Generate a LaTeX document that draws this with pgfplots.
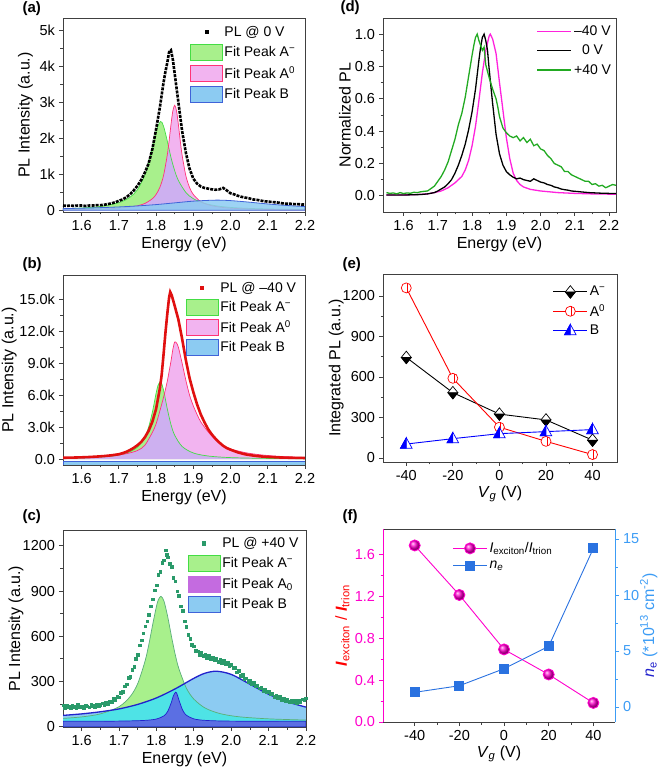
\documentclass[border=0pt]{standalone}
\usepackage{fontspec}
\setmainfont{Liberation Sans}
\usepackage{pgfplots}
\pgfplotsset{compat=1.18}

\definecolor{gfill}{HTML}{A8F08C}
\definecolor{gline}{HTML}{44DD44}
\definecolor{pfill}{HTML}{F2B4F0}
\definecolor{pline}{HTML}{FF3377}
\definecolor{lav}{HTML}{CDB0F0}
\definecolor{bfill}{HTML}{8CCBF2}
\definecolor{bline}{HTML}{3F63D8}
\definecolor{cyanov}{HTML}{4EE3E6}
\definecolor{navy}{HTML}{5B6FE3}
\definecolor{purp}{HTML}{C46BE0}
\definecolor{tealdot}{HTML}{2A9A6A}
\definecolor{tealline}{HTML}{5AAE7A}
\definecolor{dmag}{HTML}{FF22DD}
\definecolor{dgreen}{HTML}{22AA22}
\definecolor{fmag}{HTML}{FF00CC}
\definecolor{fblue}{HTML}{2A72E0}
\definecolor{lblue}{HTML}{3C9CF5}
\definecolor{nblue}{HTML}{2222CC}
\definecolor{axgray}{HTML}{404040}
\definecolor{redPL}{HTML}{E01010}

\pgfdeclareplotmark{halfdiamondB}{%
  \begin{pgfscope}\pgfsetfillcolor{white}
  \pgfpathmoveto{\pgfqpoint{0pt}{1.25\pgfplotmarksize}}
  \pgfpathlineto{\pgfqpoint{\pgfplotmarksize}{0pt}}
  \pgfpathlineto{\pgfqpoint{0pt}{-1.25\pgfplotmarksize}}
  \pgfpathlineto{\pgfqpoint{-\pgfplotmarksize}{0pt}}
  \pgfpathclose\pgfusepathqfillstroke
  \end{pgfscope}
  \pgfpathmoveto{\pgfqpoint{\pgfplotmarksize}{0pt}}
  \pgfpathlineto{\pgfqpoint{0pt}{-1.25\pgfplotmarksize}}
  \pgfpathlineto{\pgfqpoint{-\pgfplotmarksize}{0pt}}
  \pgfpathclose\pgfusepathqfillstroke
}
\pgfdeclareplotmark{circbar}{%
  \begin{pgfscope}\pgfsetfillcolor{white}
  \pgfpathcircle{\pgfpointorigin}{\pgfplotmarksize}\pgfusepathqfillstroke
  \end{pgfscope}
  \pgfpathmoveto{\pgfqpoint{0.25\pgfplotmarksize}{-0.96\pgfplotmarksize}}
  \pgfpathlineto{\pgfqpoint{0.25\pgfplotmarksize}{0.96\pgfplotmarksize}}
  \pgfusepathqstroke
}
\pgfdeclareplotmark{halftriL}{%
  \begin{pgfscope}\pgfsetfillcolor{white}
  \pgfpathmoveto{\pgfqpoint{0pt}{1.15\pgfplotmarksize}}
  \pgfpathlineto{\pgfqpoint{1.05\pgfplotmarksize}{-0.75\pgfplotmarksize}}
  \pgfpathlineto{\pgfqpoint{-1.05\pgfplotmarksize}{-0.75\pgfplotmarksize}}
  \pgfpathclose\pgfusepathqfillstroke
  \end{pgfscope}
  \pgfpathmoveto{\pgfqpoint{0pt}{1.15\pgfplotmarksize}}
  \pgfpathlineto{\pgfqpoint{0pt}{-0.75\pgfplotmarksize}}
  \pgfpathlineto{\pgfqpoint{-1.05\pgfplotmarksize}{-0.75\pgfplotmarksize}}
  \pgfpathclose\pgfusepathqfillstroke
}

\pgfplotsset{
  panel/.style={
    scale only axis, anchor=south west,
    axis line style={axgray, line width=0.8pt},
    tick style={axgray, line width=0.8pt},
    tick align=outside, tick pos=left,
    major tick length=4pt, minor tick length=2.5pt,
    minor x tick num=1, minor y tick num=1,
    ticklabel style={font=\fontsize{14.5}{16}\selectfont},
    label style={font=\fontsize{16}{18}\selectfont},
    xticklabel style={yshift=-1pt},
    yticklabel style={xshift=-0.5pt},
    /pgf/number format/assume math mode=true,
    /pgf/number format/1000 sep={},
    legend style={draw=none, fill=none, font=\fontsize{14}{15.5}\selectfont,
      row sep=3pt, inner sep=0pt, outer sep=0pt},
    legend cell align=left,
    xlabel style={at={(axis description cs:0.5,0)}, anchor=center, yshift=-32pt},
  },
  energyx/.style={xmin=1.55, xmax=2.2, xtick={1.6,1.7,1.8,1.9,2.0,2.1,2.2},
    xticklabel style={/pgf/number format/.cd, fixed, fixed zerofill, precision=1},
    xlabel={Energy (eV)}},
  linelegend/.style={legend image code/.code={\draw[mark repeat=2,mark phase=2,##1] plot coordinates {(0pt,0pt) (17pt,0pt) (34pt,0pt)};}},
  arealegend/.style={legend image code/.code={\draw[##1] (0pt,-8pt) rectangle (32pt,8pt);}},
  dotlegend/.style={legend image code/.code={\path (0pt,-8pt) (32pt,8pt); \fill[##1] (14.5pt,-1.6pt) rectangle (17.5pt,1.6pt);}},
}

\begin{document}
\begin{tikzpicture}
\path[use as bounding box] (0pt,0pt) rectangle (661pt,772pt);

% ---------------- (a)
\begin{axis}[panel, energyx, at={(63pt,560pt)}, width=242pt, height=194pt,
  ymin=-0.05, ymax=5.35, ytick={0,1,2,3,4,5}, yticklabels={0,1k,2k,3k,4k,5k},
  ylabel={PL Intensity (a.u.)},
  ylabel style={at={(axis description cs:-0.155,0.5)}, anchor=center},
  legend style={at={(0.525,0.97)}, anchor=north west, row sep=4pt}]
\addlegendimage{dotlegend, black}\addlegendentry{PL @ 0 V}
\addlegendimage{arealegend, fill=gfill, draw=gline}\addlegendentry{Fit Peak A\textsuperscript{−}}
\addlegendimage{arealegend, fill=pfill, draw=pline}\addlegendentry{Fit Peak A\textsuperscript{0}}
\addlegendimage{arealegend, fill=bfill, draw=bline}\addlegendentry{Fit Peak B}
\addplot[forget plot, smooth, fill=gfill, draw=none] coordinates {(1.55,0.041)(1.60,0.062)(1.65,0.104)(1.70,0.208)(1.73,0.362)(1.75,0.571)(1.77,0.978)(1.78,1.31)(1.79,1.74)(1.80,2.20)(1.812,2.47)(1.82,2.34)(1.83,1.93)(1.84,1.47)(1.85,1.10)(1.86,0.825)(1.88,0.494)(1.90,0.321)(1.93,0.189)(1.97,0.109)(2.02,0.064)(2.10,0.034)(2.20,0.019)} \closedcycle;
\addplot[forget plot, smooth, fill=pfill, draw=none] coordinates {(1.55,0.014)(1.60,0.020)(1.65,0.032)(1.70,0.056)(1.73,0.087)(1.75,0.123)(1.77,0.188)(1.79,0.319)(1.80,0.438)(1.81,0.631)(1.82,0.96)(1.83,1.53)(1.835,1.93)(1.84,2.38)(1.845,2.76)(1.85,2.92)(1.855,2.76)(1.86,2.38)(1.865,1.93)(1.87,1.53)(1.88,0.96)(1.89,0.631)(1.90,0.438)(1.92,0.241)(1.95,0.123)(2.00,0.056)(2.10,0.020)(2.20,0.010)} \closedcycle;
\addplot[forget plot, smooth, fill=lav, draw=none] coordinates {(1.55,0.014)(1.60,0.020)(1.65,0.032)(1.70,0.056)(1.73,0.087)(1.75,0.123)(1.77,0.188)(1.79,0.319)(1.80,0.438)(1.81,0.631)(1.82,0.96)(1.83,1.53)(1.835,1.69)(1.84,1.47)(1.85,1.10)(1.86,0.825)(1.88,0.494)(1.90,0.321)(1.92,0.22)(1.95,0.123)(2.00,0.056)(2.10,0.020)(2.20,0.010)} \closedcycle;
\addplot[forget plot, smooth, draw=gline, line width=0.7pt] coordinates {(1.55,0.041)(1.60,0.062)(1.65,0.104)(1.70,0.208)(1.73,0.362)(1.75,0.571)(1.77,0.978)(1.78,1.31)(1.79,1.74)(1.80,2.20)(1.812,2.47)(1.82,2.34)(1.83,1.93)(1.84,1.47)(1.85,1.10)(1.86,0.825)(1.88,0.494)(1.90,0.321)(1.93,0.189)(1.97,0.109)(2.02,0.064)(2.10,0.034)(2.20,0.019)};
\addplot[forget plot, smooth, draw=pline, line width=0.7pt] coordinates {(1.55,0.014)(1.60,0.020)(1.65,0.032)(1.70,0.056)(1.73,0.087)(1.75,0.123)(1.77,0.188)(1.79,0.319)(1.80,0.438)(1.81,0.631)(1.82,0.96)(1.83,1.53)(1.835,1.93)(1.84,2.38)(1.845,2.76)(1.85,2.92)(1.855,2.76)(1.86,2.38)(1.865,1.93)(1.87,1.53)(1.88,0.96)(1.89,0.631)(1.90,0.438)(1.92,0.241)(1.95,0.123)(2.00,0.056)(2.10,0.020)(2.20,0.010)};
\addplot[forget plot, smooth, fill=bfill, fill opacity=0.85, draw=bline, line width=0.8pt] coordinates {(1.55,0.045)(1.60,0.056)(1.65,0.071)(1.70,0.091)(1.75,0.119)(1.80,0.156)(1.85,0.204)(1.90,0.252)(1.96,0.28)(2.00,0.267)(2.05,0.224)(2.10,0.174)(2.15,0.132)(2.20,0.101)} \closedcycle;
\addplot[forget plot, black, line width=2.6pt, dash pattern=on 3pt off 1.1pt] coordinates {(1.55,0.13)(1.56,0.12)(1.57,0.13)(1.58,0.12)(1.59,0.13)(1.60,0.13)(1.61,0.12)(1.62,0.13)(1.63,0.13)(1.64,0.14)(1.65,0.14)(1.66,0.15)(1.67,0.17)(1.68,0.19)(1.69,0.22)(1.70,0.26)(1.71,0.30)(1.72,0.36)(1.73,0.44)(1.74,0.55)(1.75,0.68)(1.76,0.84)(1.77,1.05)(1.78,1.30)(1.79,1.70)(1.80,2.25)(1.81,2.85)(1.82,3.55)(1.825,3.85)(1.83,4.10)(1.835,4.40)(1.84,4.45)(1.845,4.20)(1.85,3.80)(1.86,3.00)(1.87,2.20)(1.88,1.60)(1.89,1.15)(1.90,0.88)(1.91,0.74)(1.92,0.66)(1.93,0.62)(1.94,0.60)(1.95,0.58)(1.96,0.57)(1.97,0.58)(1.98,0.62)(1.99,0.55)(2.00,0.47)(2.01,0.44)(2.02,0.40)(2.03,0.37)(2.04,0.35)(2.05,0.33)(2.06,0.30)(2.07,0.29)(2.08,0.27)(2.09,0.25)(2.10,0.24)(2.11,0.23)(2.12,0.22)(2.13,0.21)(2.14,0.19)(2.15,0.18)(2.16,0.18)(2.17,0.17)(2.18,0.17)(2.19,0.16)(2.20,0.16)};
\end{axis}

% ---------------- (b)
\begin{axis}[panel, energyx, at={(63pt,307pt)}, width=242pt, height=190pt,
  ymin=-0.56, ymax=17.3, ytick={0,3,6,9,12,15}, yticklabels={0.0,3.0k,6.0k,9.0k,12.0k,15.0k},
  ylabel={PL Intensity (a.u.)},
  ylabel style={at={(axis description cs:-0.222,0.5)}, anchor=center},
  legend style={at={(0.508,0.975)}, anchor=north west, row sep=3pt}]
\addlegendimage{dotlegend, redPL}\addlegendentry{PL @ –40 V}
\addlegendimage{arealegend, fill=gfill, draw=gline}\addlegendentry{Fit Peak A\textsuperscript{−}}
\addlegendimage{arealegend, fill=pfill, draw=pline}\addlegendentry{Fit Peak A\textsuperscript{0}}
\addlegendimage{arealegend, fill=bfill, draw=bline}\addlegendentry{Fit Peak B}
\addplot[forget plot, smooth, fill=gfill, draw=none] coordinates {(1.55,0.071)(1.62,0.132)(1.68,0.275)(1.72,0.549)(1.75,1.118)(1.77,2.085)(1.78,3.00)(1.79,4.40)(1.80,6.17)(1.805,6.9)(1.811,7.27)(1.815,7.10)(1.82,6.49)(1.825,5.63)(1.83,4.74)(1.84,3.24)(1.85,2.24)(1.87,1.18)(1.90,0.572)(1.94,0.284)(2.00,0.135)(2.10,0.058)(2.20,0.032)} \closedcycle;
\addplot[forget plot, smooth, fill=pfill, draw=none] coordinates {(1.55,0.10)(1.62,0.18)(1.68,0.30)(1.72,0.50)(1.75,0.80)(1.77,1.30)(1.79,2.50)(1.80,3.30)(1.81,4.50)(1.82,5.80)(1.83,7.30)(1.84,9.20)(1.845,10.3)(1.85,11.0)(1.855,10.9)(1.86,10.5)(1.87,9.0)(1.88,7.4)(1.89,6.0)(1.90,5.0)(1.91,4.2)(1.92,3.5)(1.94,2.55)(1.96,1.80)(1.98,1.30)(2.00,0.95)(2.04,0.60)(2.08,0.40)(2.12,0.28)(2.16,0.20)(2.20,0.15)} \closedcycle;
\addplot[forget plot, smooth, fill=lav, draw=none] coordinates {(1.55,0.071)(1.62,0.132)(1.68,0.275)(1.72,0.50)(1.75,0.80)(1.77,1.30)(1.79,2.50)(1.80,3.30)(1.81,4.50)(1.82,5.80)(1.825,5.63)(1.83,4.74)(1.84,3.24)(1.85,2.24)(1.87,1.18)(1.90,0.572)(1.94,0.284)(2.00,0.135)(2.10,0.058)(2.20,0.032)} \closedcycle;
\addplot[forget plot, smooth, draw=gline, line width=0.7pt] coordinates {(1.55,0.071)(1.62,0.132)(1.68,0.275)(1.72,0.549)(1.75,1.118)(1.77,2.085)(1.78,3.00)(1.79,4.40)(1.80,6.17)(1.805,6.9)(1.811,7.27)(1.815,7.10)(1.82,6.49)(1.825,5.63)(1.83,4.74)(1.84,3.24)(1.85,2.24)(1.87,1.18)(1.90,0.572)(1.94,0.284)(2.00,0.135)(2.10,0.058)(2.20,0.032)};
\addplot[forget plot, smooth, draw=pline, line width=0.7pt] coordinates {(1.55,0.10)(1.62,0.18)(1.68,0.30)(1.72,0.50)(1.75,0.80)(1.77,1.30)(1.79,2.50)(1.80,3.30)(1.81,4.50)(1.82,5.80)(1.83,7.30)(1.84,9.20)(1.845,10.3)(1.85,11.0)(1.855,10.9)(1.86,10.5)(1.87,9.0)(1.88,7.4)(1.89,6.0)(1.90,5.0)(1.91,4.2)(1.92,3.5)(1.94,2.55)(1.96,1.80)(1.98,1.30)(2.00,0.95)(2.04,0.60)(2.08,0.40)(2.12,0.28)(2.16,0.20)(2.20,0.15)};
\addplot[forget plot, fill=bfill, draw=bline, line width=0.6pt] coordinates {(1.55,-0.22)(2.2,-0.22)(2.2,-0.8)(1.55,-0.8)} -- cycle;
\addplot[forget plot, redPL, line width=2.6pt] coordinates {(1.55,0.12)(1.58,0.14)(1.60,0.16)(1.62,0.19)(1.64,0.23)(1.66,0.28)(1.68,0.35)(1.70,0.45)(1.71,0.55)(1.72,0.68)(1.73,0.85)(1.74,1.05)(1.75,1.30)(1.76,1.60)(1.77,2.05)(1.78,2.65)(1.79,3.50)(1.80,4.70)(1.81,6.60)(1.815,7.9)(1.82,9.8)(1.825,11.8)(1.83,13.6)(1.835,15.2)(1.838,15.7)(1.842,15.4)(1.85,14.4)(1.86,13.1)(1.87,11.3)(1.88,9.3)(1.89,7.6)(1.90,6.3)(1.91,5.15)(1.92,4.2)(1.93,3.45)(1.94,2.8)(1.95,2.3)(1.96,1.9)(1.97,1.55)(1.98,1.25)(1.99,1.03)(2.00,0.88)(2.02,0.62)(2.04,0.44)(2.06,0.33)(2.08,0.25)(2.10,0.20)(2.13,0.15)(2.16,0.12)(2.20,0.10)};
\end{axis}

% ---------------- (c)
\begin{axis}[panel, energyx, at={(63pt,45pt)}, width=243pt, height=197pt,
  ymin=-2, ymax=1305, ytick={0,300,600,900,1200},
  ylabel={PL Intensity (a.u.)},
  ylabel style={at={(axis description cs:-0.193,0.5)}, anchor=center},
  legend style={at={(0.514,0.975)}, anchor=north west, row sep=4pt}]
\addlegendimage{dotlegend, tealdot}\addlegendentry{PL @ +40 V}
\addlegendimage{arealegend, fill=gfill, draw=gline}\addlegendentry{Fit Peak A\textsuperscript{−}}
\addlegendimage{arealegend, fill=purp, draw=purp}\addlegendentry{Fit Peak A\textsubscript{0}}
\addlegendimage{arealegend, fill=bfill, draw=bline}\addlegendentry{Fit Peak B}
\addplot[forget plot, smooth, fill=bfill, draw=none] coordinates {(1.55,75)(1.60,85)(1.65,99)(1.70,118)(1.75,148)(1.80,191)(1.85,251)(1.90,321)(1.93,355)(1.961,368)(2.00,347)(2.05,282)(2.10,215)(2.15,165)(2.20,130)} \closedcycle;
\addplot[forget plot, smooth, fill=gfill, draw=none] coordinates {(1.55,55)(1.60,65)(1.65,85)(1.70,133)(1.73,201)(1.75,287)(1.77,440)(1.78,551)(1.79,679)(1.80,799)(1.805,842)(1.812,865)(1.82,834)(1.83,731)(1.84,601)(1.85,481)(1.86,385)(1.88,256)(1.90,183)(1.93,124)(1.97,87)(2.02,66)(2.10,52)(2.20,44)} \closedcycle;
\addplot[forget plot, smooth, fill=cyanov, draw=none] coordinates {(1.55,55)(1.60,65)(1.65,85)(1.70,118)(1.73,135)(1.75,148)(1.80,191)(1.85,251)(1.86,265)(1.87,279)(1.875,281)(1.88,256)(1.90,183)(1.93,124)(1.97,87)(2.02,66)(2.10,52)(2.20,44)} \closedcycle;
\addplot[forget plot, smooth, fill=navy, draw=nblue, line width=0.7pt] coordinates {(1.55,36)(1.65,36)(1.72,38)(1.77,42)(1.80,51)(1.82,72)(1.83,101)(1.84,162)(1.845,203)(1.851,229)(1.855,217)(1.86,178)(1.87,110)(1.88,76)(1.90,52)(1.93,42)(2.00,37)(2.20,36)} \closedcycle;
\addplot[forget plot, smooth, draw=tealline, line width=0.7pt] coordinates {(1.55,55)(1.60,65)(1.65,85)(1.70,133)(1.73,201)(1.75,287)(1.77,440)(1.78,551)(1.79,679)(1.80,799)(1.805,842)(1.812,865)(1.82,834)(1.83,731)(1.84,601)(1.85,481)(1.86,385)(1.88,256)(1.90,183)(1.93,124)(1.97,87)(2.02,66)(2.10,52)(2.20,44)};
\addplot[forget plot, smooth, draw=nblue, line width=1.3pt] coordinates {(1.55,75)(1.60,85)(1.65,99)(1.70,118)(1.75,148)(1.80,191)(1.85,251)(1.90,321)(1.93,355)(1.961,368)(2.00,347)(2.05,282)(2.10,215)(2.15,165)(2.20,130)};
\addplot[forget plot, only marks, mark=square*, mark size=1.3pt, mark options={tealdot, draw=tealdot}] coordinates {(1.550,142)(1.555,128)(1.560,139)(1.565,131)(1.570,126)(1.575,141)(1.580,133)(1.585,127)(1.590,145)(1.595,130)(1.600,137)(1.605,124)(1.610,143)(1.615,135)(1.620,129)(1.625,147)(1.630,138)(1.635,133)(1.640,150)(1.645,141)(1.650,146)(1.655,155)(1.660,147)(1.665,160)(1.670,152)(1.675,170)(1.680,162)(1.685,185)(1.690,178)(1.695,200)(1.700,196)(1.705,225)(1.710,232)(1.715,270)(1.720,282)(1.725,325)(1.730,330)(1.735,380)(1.740,398)(1.745,450)(1.750,478)(1.755,540)(1.760,575)(1.765,620)(1.770,668)(1.775,700)(1.780,742)(1.785,800)(1.790,845)(1.795,905)(1.800,940)(1.805,1010)(1.810,1030)(1.815,1090)(1.820,1105)(1.825,1170)(1.828,1140)(1.830,1125)(1.835,1080)(1.840,1060)(1.845,990)(1.850,965)(1.855,900)(1.860,870)(1.865,800)(1.870,770)(1.875,700)(1.880,665)(1.885,610)(1.890,585)(1.895,545)(1.900,535)(1.905,505)(1.910,500)(1.915,478)(1.920,490)(1.925,470)(1.930,478)(1.935,455)(1.940,470)(1.945,452)(1.950,460)(1.955,440)(1.960,455)(1.965,432)(1.970,448)(1.975,425)(1.980,440)(1.985,418)(1.990,428)(1.995,405)(2.000,412)(2.005,388)(2.010,392)(2.015,362)(2.020,370)(2.025,340)(2.030,345)(2.035,318)(2.040,322)(2.045,300)(2.050,305)(2.055,284)(2.060,290)(2.065,268)(2.070,275)(2.075,255)(2.080,260)(2.085,240)(2.090,248)(2.095,228)(2.100,235)(2.105,215)(2.110,222)(2.115,200)(2.120,210)(2.125,190)(2.130,198)(2.135,180)(2.140,190)(2.145,172)(2.150,183)(2.155,165)(2.160,176)(2.165,162)(2.170,172)(2.175,160)(2.180,175)(2.185,165)(2.190,182)(2.195,178)(2.200,190)};
\end{axis}

% ---------------- (d)
\begin{axis}[panel, at={(383pt,560pt)}, width=233pt, height=194pt,
  xmin=1.54, xmax=2.22, xtick={1.6,1.7,1.8,1.9,2.0,2.1,2.2},
  xticklabel style={/pgf/number format/.cd, fixed, fixed zerofill, precision=1},
  xlabel={Energy (eV)},
  ymin=-0.1, ymax=1.1, ytick={0,0.2,0.4,0.6,0.8,1.0},
  yticklabel style={/pgf/number format/.cd, fixed, fixed zerofill, precision=1},
  ylabel={Normalized PL},
  ylabel style={at={(axis description cs:-0.163,0.5)}, anchor=center},
  linelegend,
  legend style={at={(0.66,0.97)}, anchor=north west, row sep=4pt}]
\addplot[dmag, line width=1.3pt] coordinates {(1.55,0.005)(1.58,0.005)(1.61,0.006)(1.64,0.008)(1.67,0.012)(1.69,0.02)(1.71,0.03)(1.73,0.05)(1.75,0.08)(1.76,0.10)(1.77,0.12)(1.78,0.16)(1.79,0.22)(1.80,0.31)(1.81,0.43)(1.82,0.59)(1.83,0.76)(1.84,0.90)(1.85,0.99)(1.853,1.0)(1.86,0.97)(1.87,0.88)(1.88,0.70)(1.89,0.53)(1.90,0.36)(1.91,0.23)(1.92,0.14)(1.93,0.095)(1.94,0.07)(1.95,0.055)(1.97,0.04)(2.00,0.03)(2.05,0.02)(2.10,0.015)(2.15,0.012)(2.22,0.01)};
\addlegendentry{–40 V}
\addplot[black, line width=1.3pt] coordinates {(1.55,0.005)(1.60,0.005)(1.65,0.008)(1.67,0.012)(1.69,0.02)(1.70,0.03)(1.72,0.055)(1.73,0.075)(1.74,0.10)(1.75,0.14)(1.76,0.19)(1.77,0.25)(1.78,0.32)(1.79,0.41)(1.80,0.52)(1.81,0.66)(1.82,0.84)(1.825,0.92)(1.83,0.98)(1.835,1.0)(1.84,0.96)(1.845,0.90)(1.85,0.78)(1.86,0.57)(1.87,0.38)(1.88,0.26)(1.89,0.19)(1.90,0.15)(1.91,0.13)(1.92,0.115)(1.93,0.105)(1.94,0.11)(1.95,0.10)(1.96,0.095)(1.97,0.09)(1.98,0.105)(1.99,0.095)(2.00,0.085)(2.01,0.08)(2.02,0.07)(2.03,0.065)(2.04,0.055)(2.05,0.05)(2.06,0.042)(2.07,0.038)(2.08,0.035)(2.09,0.03)(2.10,0.028)(2.12,0.024)(2.14,0.02)(2.16,0.018)(2.18,0.016)(2.20,0.015)(2.22,0.014)};
\addlegendentry{\hspace{8pt}0 V}
\addplot[dgreen, line width=1.3pt] coordinates {(1.55,0.02)(1.56,0.015)(1.57,0.018)(1.58,0.012)(1.59,0.02)(1.60,0.014)(1.61,0.018)(1.62,0.016)(1.63,0.022)(1.64,0.02)(1.65,0.025)(1.66,0.028)(1.67,0.03)(1.68,0.045)(1.69,0.06)(1.70,0.09)(1.71,0.12)(1.72,0.16)(1.73,0.21)(1.74,0.28)(1.75,0.35)(1.76,0.44)(1.77,0.51)(1.78,0.61)(1.79,0.74)(1.80,0.87)(1.805,0.93)(1.81,0.98)(1.815,1.0)(1.82,0.96)(1.83,0.90)(1.835,0.92)(1.84,0.81)(1.85,0.73)(1.86,0.66)(1.87,0.60)(1.875,0.55)(1.88,0.49)(1.89,0.42)(1.90,0.39)(1.91,0.37)(1.92,0.36)(1.93,0.37)(1.94,0.34)(1.95,0.36)(1.96,0.33)(1.97,0.35)(1.98,0.31)(1.99,0.32)(2.00,0.29)(2.01,0.28)(2.02,0.25)(2.03,0.23)(2.04,0.20)(2.05,0.19)(2.06,0.18)(2.07,0.15)(2.08,0.15)(2.09,0.13)(2.10,0.12)(2.11,0.11)(2.12,0.10)(2.13,0.09)(2.14,0.09)(2.15,0.07)(2.16,0.075)(2.17,0.06)(2.18,0.065)(2.19,0.05)(2.20,0.06)(2.21,0.07)(2.22,0.065)};
\addlegendentry{+40 V}
\end{axis}

% ---------------- (e)
\begin{axis}[panel, at={(383pt,310pt)}, width=234pt, height=188pt,
  xmin=-50, xmax=50.5, xtick={-40,-20,0,20,40},
  xlabel={\textit{V}\textsubscript{\textit{g}} (V)},
  ymin=-30, ymax=1363, ytick={0,300,600,900,1200},
  ylabel={Integrated PL (a.u.)},
  ylabel style={at={(axis description cs:-0.2,0.5)}, anchor=center},
  linelegend,
  legend style={at={(0.726,0.945)}, anchor=north west, row sep=3pt}]
\addplot[black, line width=0.9pt, mark=halfdiamondB, mark size=5pt, mark options={fill=black, draw=black, line width=0.7pt}] coordinates {(-40,745)(-20,484)(0,325)(20,282)(40,132)};
\addlegendentry{A\textsuperscript{−}}
\addplot[red, line width=0.9pt, mark=circbar, mark size=5pt, mark options={draw=red, line width=0.7pt}] coordinates {(-40,1260)(-20,590)(0,228)(20,123)(40,25)};
\addlegendentry{A\textsuperscript{0}}
\addplot[blue, line width=0.9pt, mark=halftriL, mark size=5.5pt, mark options={fill=blue, draw=blue, line width=0.7pt}] coordinates {(-40,103)(-20,143)(0,180)(20,195)(40,210)};
\addlegendentry{B}
\end{axis}

% ---------------- (f)
\begin{axis}[panel, at={(383pt,50pt)}, width=232pt, height=193pt,
  xmin=-54.2, xmax=49.7, xtick={-40,-20,0,20,40},
  xlabel={\textit{V}\textsubscript{\textit{g}} (V)},
  ymin=0, ymax=1.84, ytick={0,0.4,0.8,1.2,1.6},
  yticklabel style={fmag, /pgf/number format/.cd, fixed, fixed zerofill, precision=1},
  separate axis lines,
  x axis line style={axgray}, y axis line style={fmag},
  ytick style={fmag},
  ylabel={\textcolor{red}{\textbf{\textit{I}}\textsubscript{exciton} / \textbf{\textit{I}}\textsubscript{trion}}},
  ylabel style={at={(axis description cs:-0.175,0.5)}, anchor=center}]
\addplot[fmag, line width=0.9pt, mark=ball, mark size=5.5pt, mark options={ball color=fmag}] coordinates {(-40,1.683)(-20,1.211)(0,0.692)(20,0.453)(40,0.182)};
\end{axis}
\begin{axis}[panel, at={(383pt,50pt)}, width=232pt, height=193pt,
  xmin=-54.2, xmax=49.7, axis x line=none, axis y line*=right, ytick pos=right,
  ymin=-1.34, ymax=15.9, ytick={0,5,10,15},
  y axis line style={lblue, line width=0.8pt}, ytick style={lblue},
  yticklabel style={lblue, xshift=1pt},
  ylabel={\textcolor{nblue}{\textit{n}\textsubscript{e}} \textcolor{lblue}{(*10\textsuperscript{13} cm\textsuperscript{-2})}},
  ylabel style={at={(axis description cs:1.145,0.5)}, anchor=center},
  linelegend,
  legend style={at={(0.30,0.94)}, anchor=north west, row sep=3pt}]
\addlegendimage{fmag, line width=0.9pt, mark=ball, mark size=5.5pt, mark options={ball color=fmag}}
\addlegendentry{\textit{I}\textsubscript{exciton}/\textit{I}\textsubscript{trion}}
\addplot[fblue, line width=0.9pt, mark=square*, mark size=4.5pt, mark options={fill=fblue, draw=fblue}] coordinates {(-40,1.31)(-20,1.90)(0,3.42)(20,5.42)(40,14.17)};
\addlegendentry{\textit{n}\textsubscript{\textit{e}}}
\end{axis}

\node[anchor=west, font=\bfseries\fontsize{15}{17}\selectfont] at (19pt,763.5pt) {(a)};
\node[anchor=west, font=\bfseries\fontsize{15}{17}\selectfont] at (19pt,507.3pt) {(b)};
\node[anchor=west, font=\bfseries\fontsize{15}{17}\selectfont] at (19pt,255pt) {(c)};
\node[anchor=west, font=\bfseries\fontsize{15}{17}\selectfont] at (337pt,764pt) {(d)};
\node[anchor=west, font=\bfseries\fontsize{15}{17}\selectfont] at (339pt,507.3pt) {(e)};
\node[anchor=west, font=\bfseries\fontsize{15}{17}\selectfont] at (339pt,255pt) {(f)};
\end{tikzpicture}
\end{document}
